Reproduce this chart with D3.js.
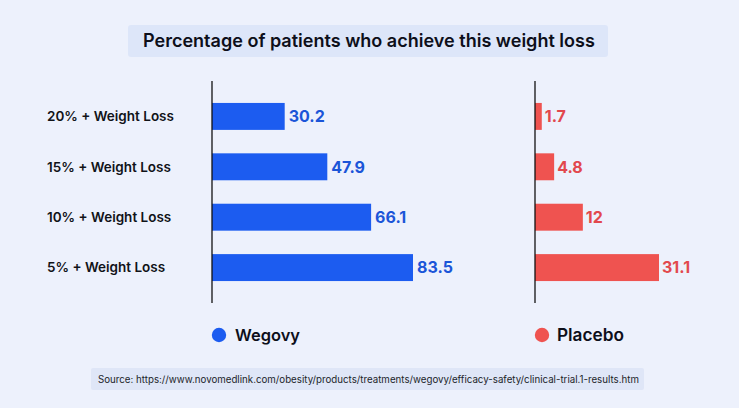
<!DOCTYPE html>
<html>
<head>
<meta charset="utf-8">
<script src="https://cdn.jsdelivr.net/npm/d3@7"></script>
<style>
  html, body { margin: 0; padding: 0; background: #edf1fc; }
  svg { display: block; }
  text { font-family: Inter, "Open Sans", sans-serif; }
</style>
</head>
<body>
<svg id="chart" width="739" height="408"></svg>
<script>
const categories = ["20% + Weight Loss", "15% + Weight Loss", "10% + Weight Loss", "5% + Weight Loss"];
const wegovyValues = [30.2, 47.9, 66.1, 83.5];
const placeboValues = [1.7, 4.8, 12, 31.1];
const wegovyLabels = ["30.2", "47.9", "66.1", "83.5"];
const placeboLabels = ["1.7", "4.8", "12", "31.1"];
const seriesNames = ["Wegovy", "Placebo"];
const titleText = "Percentage of patients who achieve this weight loss";
const sourceText = "Source: https://www.novomedlink.com/obesity/products/treatments/wegovy/efficacy-safety/clinical-trial.1-results.htm";

const W = 739, H = 408;
const svg = d3.select("#chart");
svg.append("rect").attr("width", W).attr("height", H).attr("fill", "#edf1fc");

const blue = "#1c5cf0", blueText = "#1b55d8";
const red = "#ef5350", redText = "#e2484d";

// fit helper: scale font size so text width matches target
function fit(sel, target) {
  const len = sel.node().getComputedTextLength();
  const fs = parseFloat(sel.attr("font-size"));
  sel.attr("font-size", (fs * target / len).toFixed(2));
}

// Title box
svg.append("rect").attr("x", 128).attr("y", 25).attr("width", 480).attr("height", 32)
  .attr("rx", 3).attr("fill", "#dde6f9");
const t = svg.append("text").attr("x", 143).attr("y", 41).attr("dy", "0.35em")
  .attr("font-size", 17).attr("font-weight", 600).attr("fill", "#0d0f1a").text(titleText);
fit(t, 452);

// Scales
const y = d3.scaleBand().domain(categories).range([77.75, 306.25]).paddingInner(0.4653).paddingOuter(0.5);
const xW = d3.scaleLinear().domain([0, 83.5]).range([212, 413]);
const xP = d3.scaleLinear().domain([0, 31.1]).range([535, 659]);

// Category labels
categories.forEach((c, i) => {
  const tx = svg.append("text").attr("x", 47).attr("y", y(c) + y.bandwidth() / 2).attr("dy", "0.35em")
    .attr("font-size", 13.5).attr("font-weight", 600).attr("fill", "#111318").text(c);
});

// Wegovy bars
svg.selectAll(".wb").data(categories).enter().append("rect")
  .attr("x", xW(0)).attr("y", d => y(d)).attr("height", y.bandwidth())
  .attr("width", (d, i) => xW(wegovyValues[i]) - xW(0)).attr("fill", blue);
svg.selectAll(".wl").data(categories).enter().append("text")
  .attr("x", (d, i) => xW(wegovyValues[i]) + 4).attr("y", d => y(d) + y.bandwidth() / 2).attr("dy", "0.36em")
  .attr("font-size", 16).attr("font-weight", 700).attr("fill", blueText)
  .text((d, i) => wegovyLabels[i]);

// Placebo bars
svg.selectAll(".pb").data(categories).enter().append("rect")
  .attr("x", xP(0)).attr("y", d => y(d)).attr("height", y.bandwidth())
  .attr("width", (d, i) => xP(placeboValues[i]) - xP(0)).attr("fill", red);
svg.selectAll(".pl").data(categories).enter().append("text")
  .attr("x", (d, i) => xP(placeboValues[i]) + 3).attr("y", d => y(d) + y.bandwidth() / 2).attr("dy", "0.36em")
  .attr("font-size", 16).attr("font-weight", 700).attr("fill", redText)
  .text((d, i) => placeboLabels[i]);

// Axis lines
[xW(0), xP(0)].forEach(x0 => {
  svg.append("line").attr("x1", x0).attr("x2", x0).attr("y1", 81).attr("y2", 303)
    .attr("stroke", "#111").attr("stroke-width", 1.3);
});

// Legend
const legend = [{name: seriesNames[0], color: blue, cx: 219, tx: 235, w: 65},
                {name: seriesNames[1], color: red, cx: 542, tx: 557, w: 67}];
legend.forEach(l => {
  svg.append("circle").attr("cx", l.cx).attr("cy", 335).attr("r", 7.2).attr("fill", l.color);
  const lt = svg.append("text").attr("x", l.tx).attr("y", 335).attr("dy", "0.35em")
    .attr("font-size", 16).attr("font-weight", 600).attr("fill", "#0d0f1a").text(l.name);
  fit(lt, l.w);
});

// Source box
svg.append("rect").attr("x", 91).attr("y", 368).attr("width", 553).attr("height", 22)
  .attr("rx", 2).attr("fill", "#dfe6f7");
const st = svg.append("text").attr("x", 98).attr("y", 379.5).attr("dy", "0.35em")
  .attr("font-size", 10).attr("font-weight", 400).attr("fill", "#1c1f2a").text(sourceText);
fit(st, 541);
</script>
</body>
</html>
